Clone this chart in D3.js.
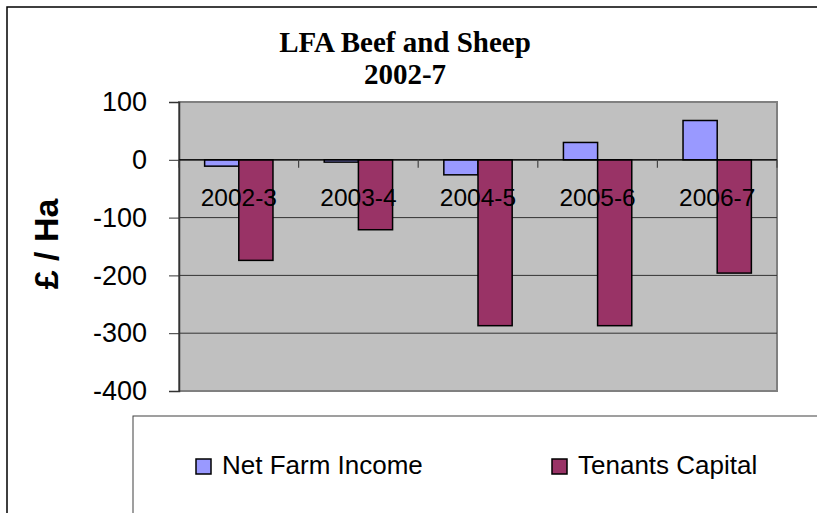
<!DOCTYPE html>
<html>
<head>
<meta charset="utf-8">
<script src="https://cdn.jsdelivr.net/npm/d3@7/dist/d3.min.js"></script>
<style>
	body { margin: 0; background: #fff; }
	text { font-family: "Liberation Sans", Arial, sans-serif; }
</style>
</head>
<body>
<div id="chart"></div>
<script>
// chart data
var categories = ['2002-3', '2003-4', '2004-5', '2005-6', '2006-7'];
var seriesNames = ['Net Farm Income', 'Tenants Capital'];
var netFarmIncome = [-11, -4, -26, 30, 68];
var tenantsCapital = [-174, -121, -287, -287, -196];
var yTicks = [100, 0, -100, -200, -300, -400];
var titleLines = ['LFA Beef and Sheep', '2002-7'];
var yTitle = '£ / Ha';

var width = 817, height = 513;
var colors = ['#9999ff', '#993366'];

var plot = { left: 179, right: 777, top: 102, bottom: 391 };

function createSvg(parent, width, height) {
	return d3.select(parent)
		.append('svg')
		.attr('width', width)
		.attr('height', height);
}

var svg = createSvg('#chart', width, height);

//outer chart frame (runs off the picture on the right and bottom)
svg.append('rect')
	.attr('x', 7).attr('y', 7)
	.attr('width', 900).attr('height', 600)
	.attr('fill', '#fff')
	.attr('stroke', '#000')
	.attr('stroke-width', 1.5);

//title
svg.append('g')
	.selectAll('text')
	.data(titleLines)
	.enter()
	.append('text')
	.attr('x', 405)
	.attr('y', function (d, i) { return 52 + i * 31.5; })
	.attr('text-anchor', 'middle')
	.style('font-family', '"Liberation Serif", "Times New Roman", serif')
	.style('font-weight', 'bold')
	.style('font-size', '29px')
	.text(function (d) { return d; });

var y = d3.scaleLinear()
	.domain([-400, 100])
	.range([plot.bottom, plot.top]);

var x0 = d3.scaleBand()
	.domain(categories)
	.range([plot.left, plot.right]);

//excel style: gap width 150% of a bar
var barW = x0.bandwidth() / 3.5;
var x1 = d3.scaleBand()
	.domain(seriesNames)
	.range([0, barW * 2]);
var groupOffset = (x0.bandwidth() - barW * 2) / 2;

//plot background
svg.append('rect')
	.attr('x', plot.left)
	.attr('y', plot.top)
	.attr('width', plot.right - plot.left)
	.attr('height', plot.bottom - plot.top)
	.attr('fill', '#c0c0c0')
	.attr('stroke', '#808080')
	.attr('stroke-width', 2);

//gridlines
svg.append('g')
	.selectAll('line')
	.data(yTicks.filter(function (d) { return d < 100 && d > -400; }))
	.enter()
	.append('line')
	.attr('x1', plot.left).attr('x2', plot.right)
	.attr('y1', function (d) { return y(d); })
	.attr('y2', function (d) { return y(d); })
	.attr('stroke', '#333')
	.attr('stroke-width', 1);

//y axis (plain hyphen for negatives, like the original)
var yAxis = svg.append('g')
	.attr('transform', 'translate(' + plot.left + ',0)')
	.call(d3.axisLeft(y).tickValues(yTicks).tickSize(10).tickPadding(22).tickFormat(function (d) { return String(d); }));
yAxis.select('.domain').attr('stroke', '#333').attr('stroke-width', 1.5);
yAxis.selectAll('.tick line').attr('stroke', '#333');
yAxis.selectAll('.tick text')
	.style('font-family', '"Liberation Sans", Arial, sans-serif')
	.style('font-size', '27px')
	.attr('fill', '#000');

//y title
svg.append('text')
	.attr('transform', 'translate(58,244) rotate(-90)')
	.attr('text-anchor', 'middle')
	.style('font-weight', 'bold')
	.style('font-size', '34px')
	.text(yTitle);

//bars
var rows = categories.map(function (c, i) {
	return { cat: c, values: [netFarmIncome[i], tenantsCapital[i]] };
});

svg.append('g')
	.selectAll('g')
	.data(rows)
	.enter()
	.append('g')
	.attr('transform', function (d) { return 'translate(' + (x0(d.cat) + groupOffset) + ',0)'; })
	.selectAll('rect')
	.data(function (d) {
		return d.values.map(function (v, i) { return { name: seriesNames[i], value: v, i: i }; });
	})
	.enter()
	.append('rect')
	.attr('x', function (d) { return x1(d.name); })
	.attr('width', x1.bandwidth())
	.attr('y', function (d) { return y(Math.max(0, d.value)); })
	.attr('height', function (d) { return Math.abs(y(d.value) - y(0)); })
	.attr('fill', function (d) { return colors[d.i]; })
	.attr('stroke', '#000')
	.attr('stroke-width', 1.5);

//x axis at zero with ticks between categories
svg.append('line')
	.attr('x1', plot.left).attr('x2', plot.right)
	.attr('y1', y(0)).attr('y2', y(0))
	.attr('stroke', '#000')
	.attr('stroke-width', 1.2);

svg.append('g')
	.selectAll('line')
	.data(categories.concat(['end']))
	.enter()
	.append('line')
	.attr('x1', function (d, i) { return plot.left + i * x0.step(); })
	.attr('x2', function (d, i) { return plot.left + i * x0.step(); })
	.attr('y1', y(0)).attr('y2', y(0) + 8)
	.attr('stroke', '#444')
	.attr('stroke-width', 1.2);

svg.append('g')
	.selectAll('text')
	.data(categories)
	.enter()
	.append('text')
	.attr('x', function (d) { return x0(d) + x0.bandwidth() / 2; })
	.attr('y', y(0) + 46)
	.attr('text-anchor', 'middle')
	.style('font-size', '24.5px')
	.text(function (d) { return d; });

//legend
var legend = svg.append('g');
legend.append('rect')
	.attr('x', 133).attr('y', 416)
	.attr('width', 800).attr('height', 200)
	.attr('fill', '#fff')
	.attr('stroke', '#404040')
	.attr('stroke-width', 1);

var legendX = [196, 552];
var item = legend.selectAll('g.item')
	.data(seriesNames)
	.enter()
	.append('g')
	.attr('class', 'item')
	.attr('transform', function (d, i) { return 'translate(' + legendX[i] + ',459)'; });

item.append('rect')
	.attr('width', 15).attr('height', 15)
	.attr('fill', function (d, i) { return colors[i]; })
	.attr('stroke', '#000')
	.attr('stroke-width', 1.5);

item.append('text')
	.attr('x', 26)
	.attr('y', 15)
	.style('font-size', '26px')
	.text(function (d) { return d; });
</script>
</body>
</html>
